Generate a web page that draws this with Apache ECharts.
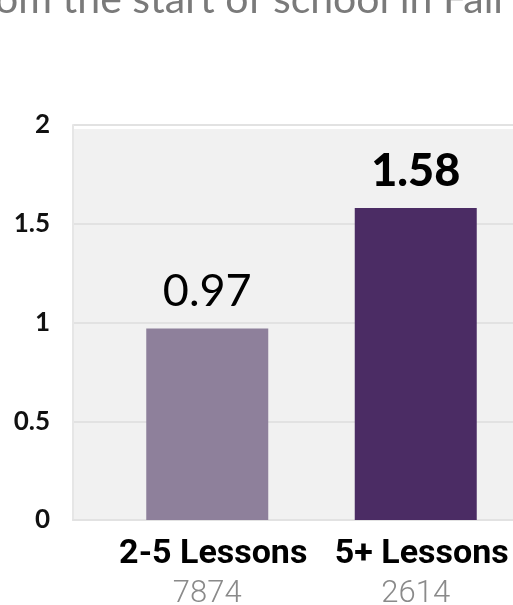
<!DOCTYPE html>
<html>
<head>
<meta charset="utf-8">
<script src="https://cdn.jsdelivr.net/npm/echarts@6/dist/echarts.min.js"></script>
<style>
  html, body { margin: 0; padding: 0; background: #ffffff; overflow: hidden; }
  #chart { width: 540px; height: 605px; }
</style>
</head>
<body>
<div id="chart"></div>
<script>
// Lesson groups, their student counts and the average gain for each
const categories = ['2-5 Lessons', '5+ Lessons'];
const studentCounts = ['7874', '2614'];
const gains = [0.97, 1.58];
const yTicks = [0, 0.5, 1, 1.5, 2];
const titleText = 'from the start of school in Fall';

const barColors = ['#8e809b', '#4b2c64'];
const labelWeights = ['normal', 900];

const chart = echarts.init(document.getElementById('chart'), null, { renderer: 'canvas' });

const barData = gains.map((v, i) => ({
  value: v,
  itemStyle: { color: barColors[i] },
  label: { fontWeight: labelWeights[i] }
}));

const countByName = {};
categories.forEach((c, i) => { countByName[c] = studentCounts[i]; });

chart.setOption({
  animation: false,
  backgroundColor: '#ffffff',
  graphic: [
    {
      type: 'rect',
      z: -10,
      shape: { x: 73, y: 129, width: 440, height: 391 },
      style: { fill: '#f1f1f1' }
    },
    {
      type: 'text',
      z: 10,
      style: {
        x: 503, y: 20,
        text: titleText,
        fill: '#7a7a7a',
        font: '41px Lato, "Noto Sans", sans-serif',
        textAlign: 'right',
        textVerticalAlign: 'bottom'
      }
    }
  ],
  grid: [
    { left: 73, right: 27, top: 125, bottom: 85, outerBoundsMode: 'none', containLabel: false },
    { left: 103, width: 417, top: 125, bottom: 85, outerBoundsMode: 'none', containLabel: false }
  ],
  xAxis: [
    {
      gridIndex: 0,
      type: 'category',
      data: categories,
      axisLine: { show: true, lineStyle: { color: '#e2e2e2', width: 2 } },
      axisTick: { show: false },
      axisLabel: { show: false }
    },
    {
      gridIndex: 1,
      type: 'category',
      data: categories,
      axisLine: { show: false },
      axisTick: { show: false },
      axisLabel: {
        interval: 0,
        margin: 15,
        formatter: (name) => '{name|' + name + '}\n{count|' + countByName[name] + '}',
        rich: {
          name: {
            fontFamily: 'Roboto, "Liberation Sans", sans-serif',
            fontWeight: 'bold',
            fontSize: 34,
            color: '#000000',
            lineHeight: 38,
            padding: [0, 0, 0, 12]
          },
          count: {
            fontFamily: 'Roboto, "Liberation Sans", sans-serif',
            fontWeight: 300,
            fontSize: 31,
            color: '#8a8a8a',
            lineHeight: 43
          }
        }
      }
    }
  ],
  yAxis: [
    {
      gridIndex: 0,
      type: 'value',
      min: yTicks[0],
      max: yTicks[yTicks.length - 1],
      interval: 0.5,
      axisLine: { show: true, lineStyle: { color: '#e6e6e6', width: 2 } },
      axisTick: { show: false },
      axisLabel: {
        margin: 23,
        color: '#111111',
        fontFamily: 'Lato, "Noto Sans", sans-serif',
        fontWeight: 'bold',
        fontSize: 26
      },
      splitLine: { show: true, lineStyle: { color: '#e2e2e2', width: 2 } }
    },
    {
      gridIndex: 1,
      type: 'value',
      min: yTicks[0],
      max: yTicks[yTicks.length - 1],
      show: false,
      splitLine: { show: false }
    }
  ],
  series: [
    {
      type: 'bar',
      xAxisIndex: 1,
      yAxisIndex: 1,
      barWidth: 122,
      data: barData,
      label: {
        show: true,
        position: 'top',
        distance: 14,
        color: '#000000',
        fontFamily: 'Lato, "Noto Sans", sans-serif',
        fontSize: 45
      }
    }
  ]
});
</script>
</body>
</html>
